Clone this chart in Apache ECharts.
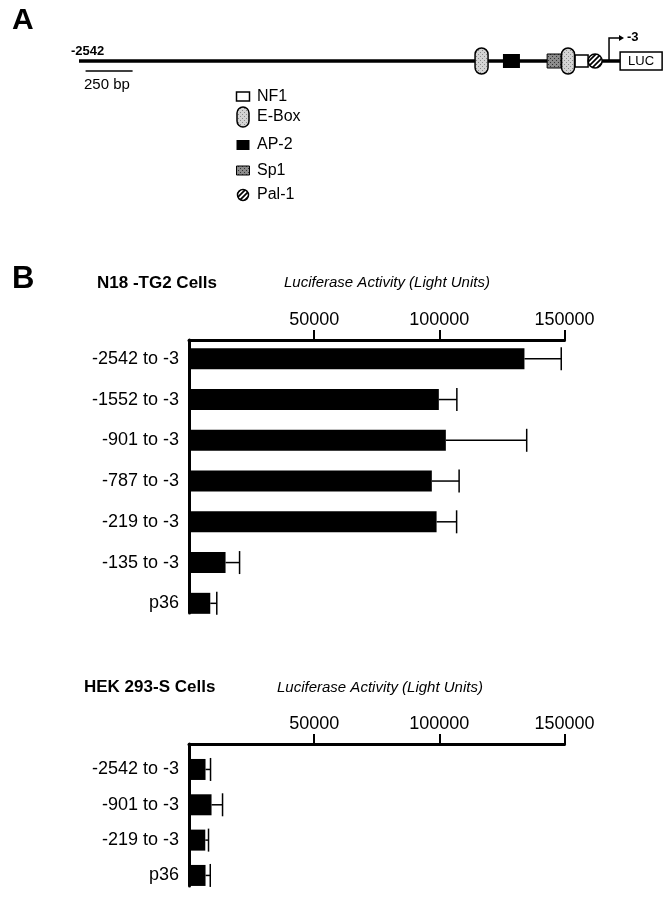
<!DOCTYPE html>
<html>
<head>
<meta charset="utf-8">
<script src="https://cdn.jsdelivr.net/npm/echarts@6/dist/echarts.min.js"></script>
<style>
html, body { margin: 0; background: #fff; }
#chart { width: 670px; height: 900px; }
</style>
</head>
<body>
<div id="chart"></div>
<script>
// panel B: luciferase activity (light units)
var n18Names = ['-2542 to -3', '-1552 to -3', '-901 to -3', '-787 to -3', '-219 to -3', '-135 to -3', 'p36'];
var n18Values = [134000, 99800, 102600, 97000, 98900, 14600, 8500];
var n18Errors = [14700, 7200, 32300, 10900, 8000, 5600, 2600];

var hekNames = ['-2542 to -3', '-901 to -3', '-219 to -3', 'p36'];
var hekValues = [6600, 9000, 6500, 6600];
var hekErrors = [2000, 4400, 1300, 1900];

var tickValues = [50000, 100000, 150000];

// panel A: promoter map, positions in map units from the -2542 end
var siteKinds = ['E-Box', 'AP-2', 'Sp1', 'E-Box', 'NF1', 'Pal-1'];
var sitePos = [2141, 2300, 2527, 2601, 2673, 2745];
var startPos = 2819;
var lucPos = 2878;
var scaleBar = [35, 285];
var legendNames = ['NF1', 'E-Box', 'AP-2', 'Sp1', 'Pal-1'];

var FONT = '"Liberation Sans", Arial, Helvetica, sans-serif';

function makePattern(bg, dot, size, kind) {
    var c = document.createElement('canvas');
    c.width = c.height = size;
    var g = c.getContext('2d');
    g.fillStyle = bg;
    g.fillRect(0, 0, size, size);
    if (kind === 'hatch') {
        g.strokeStyle = dot;
        g.lineWidth = 1.7;
        g.beginPath();
        g.moveTo(0, size); g.lineTo(size, 0);
        g.moveTo(-2, 2); g.lineTo(2, -2);
        g.moveTo(size - 2, size + 2); g.lineTo(size + 2, size - 2);
        g.stroke();
    } else {
        g.fillStyle = dot;
        g.fillRect(0, 0, 1, 1);
        g.fillRect(2, 2, 1, 1);
    }
    return { image: c, repeat: 'repeat' };
}
var lightStipple = makePattern('#d4d4d4', '#8a8a8a', 4);
var darkStipple = makePattern('#8c8c8c', '#333', 4);
var hatch = makePattern('#fff', '#000', 5, 'hatch');

// site symbol; s = 1 on the map, smaller in the legend
function siteShape(kind, x, y, s) {
    if (kind === 'E-Box') {
        var h = s === 1 ? 26 : 20, w = s === 1 ? 13 : 12;
        return { type: 'rect', shape: { x: x - w / 2, y: y - h / 2, width: w, height: h, r: w / 2 },
            style: { fill: lightStipple, stroke: '#000', lineWidth: 1.5 } };
    }
    if (kind === 'AP-2') {
        var w2 = s === 1 ? 17 : 13, h2 = s === 1 ? 14 : 10;
        return { type: 'rect', shape: { x: x - w2 / 2, y: y - h2 / 2, width: w2, height: h2 },
            style: { fill: '#000' } };
    }
    if (kind === 'Sp1') {
        var w3 = s === 1 ? 14 : 13, h3 = s === 1 ? 14 : 9;
        return { type: 'rect', shape: { x: x - w3 / 2, y: y - h3 / 2, width: w3, height: h3 },
            style: { fill: darkStipple, stroke: '#000', lineWidth: 1 } };
    }
    if (kind === 'NF1') {
        var w4 = 13, h4 = s === 1 ? 12 : 9;
        return { type: 'rect', shape: { x: x - w4 / 2, y: y - h4 / 2, width: w4, height: h4 },
            style: { fill: '#fff', stroke: '#000', lineWidth: 1.5 } };
    }
    return { type: 'circle', shape: { cx: x, cy: y, r: s === 1 ? 7 : 5.5 },
        style: { fill: hatch, stroke: '#000', lineWidth: 1.5 } };
}

function errorBars(values, errors) {
    return values.map(function (v, i) { return [v, errors[i], i]; });
}

function renderError(params, api) {
    var v = api.value(0), e = api.value(1), i = api.value(2);
    var p0 = api.coord([v, i]);
    var p1 = api.coord([v + e, i]);
    var st = { stroke: '#000', lineWidth: 1.5 };
    return {
        type: 'group',
        children: [
            { type: 'line', shape: { x1: p0[0], y1: p0[1], x2: p1[0], y2: p1[1] }, style: st },
            { type: 'line', shape: { x1: p1[0], y1: p1[1] - 11.5, x2: p1[0], y2: p1[1] + 11.5 }, style: st }
        ]
    };
}

function renderMap(params, api) {
    var y = api.coord([0, 0.5])[1];
    var x0 = api.coord([0, 0.5])[0];
    var xStart = api.coord([startPos, 0.5])[0];
    var xLuc = api.coord([lucPos, 0.5])[0];
    var sb0 = api.coord([scaleBar[0], 0.5])[0];
    var sb1 = api.coord([scaleBar[1], 0.5])[0];
    var children = [
        { type: 'line', shape: { x1: x0, y1: y, x2: xLuc, y2: y }, style: { stroke: '#000', lineWidth: 3.5 } },
        { type: 'line', shape: { x1: sb0, y1: y + 10, x2: sb1, y2: y + 10 }, style: { stroke: '#000', lineWidth: 1.5 } },
        { type: 'polyline', shape: { points: [[xStart, y], [xStart, y - 23], [xStart + 11, y - 23]] },
            style: { stroke: '#000', lineWidth: 1.5, fill: null } },
        { type: 'polygon', shape: { points: [[xStart + 15, y - 23], [xStart + 10, y - 26], [xStart + 10, y - 20]] },
            style: { fill: '#000' } },
        { type: 'rect', shape: { x: xLuc, y: y - 9, width: 42, height: 18 },
            style: { fill: '#fff', stroke: '#000', lineWidth: 1.5 } },
        { type: 'text', x: xLuc + 21, y: y, style: { text: 'LUC', font: '13px ' + FONT, fill: '#000', align: 'center', verticalAlign: 'middle' } },
        { type: 'text', x: xStart + 18, y: y - 24, style: { text: '-3', font: 'bold 13px ' + FONT, fill: '#000', verticalAlign: 'middle' } }
    ];
    sitePos.forEach(function (p, i) {
        children.push(siteShape(siteKinds[i], api.coord([p, 0.5])[0], y, 1));
    });
    return { type: 'group', children: children };
}

var legendY = [96.5, 117, 145, 170.5, 195];
var legendGraphics = [];
legendNames.forEach(function (n, i) {
    legendGraphics.push(siteShape(n, 243, legendY[i], 0));
    legendGraphics.push({ type: 'text', x: 257, y: legendY[i],
        style: { text: n, font: '16px ' + FONT, fill: '#000', verticalAlign: 'middle' } });
});

function txt(t, x, y, font) {
    return { type: 'text', x: x, y: y, style: { text: t, font: font, fill: '#000', verticalAlign: 'middle' } };
}

function frameX(grid) {
    return {
        gridIndex: grid, type: 'value', position: 'top', min: 0, max: 150000, interval: 50000,
        axisLine: { onZero: false, lineStyle: { color: '#000', width: 3 } },
        axisTick: { show: true, customValues: tickValues, length: 10, lineStyle: { color: '#000', width: 2 } },
        axisLabel: { customValues: tickValues, color: '#000', fontSize: 18, fontFamily: FONT, margin: 11,
            formatter: function (v) { return String(v); } },
        splitLine: { show: false }
    };
}
function frameY(grid) {
    return {
        gridIndex: grid, type: 'value', min: 0, max: 1,
        axisLine: { show: true, onZero: false, lineStyle: { color: '#000', width: 3 } },
        axisTick: { show: false }, axisLabel: { show: false }, splitLine: { show: false }
    };
}
function hiddenX(grid) {
    return { gridIndex: grid, type: 'value', min: 0, max: 150000, show: false };
}
function catY(grid, names) {
    return {
        gridIndex: grid, type: 'category', inverse: true, data: names,
        axisLine: { show: false }, axisTick: { show: false },
        axisLabel: { color: '#000', fontSize: 18, fontFamily: FONT, margin: 10 }
    };
}

var chart = echarts.init(document.getElementById('chart'));
var option = {
    backgroundColor: '#fff',
    animation: false,
    grid: [
        { left: 79, top: 40, width: 541.5, height: 42 },
        { left: 189, top: 340, width: 375.5, height: 273 },
        { left: 189, top: 338.4, width: 375.5, height: 285.3 },
        { left: 189, top: 744, width: 375.5, height: 142 },
        { left: 189, top: 751.8, width: 375.5, height: 141.3 }
    ],
    xAxis: [
        { gridIndex: 0, type: 'value', min: 0, max: 2880, show: false },
        frameX(1), hiddenX(2), frameX(3), hiddenX(4)
    ],
    yAxis: [
        { gridIndex: 0, type: 'value', min: 0, max: 1, show: false },
        frameY(1), catY(2, n18Names), frameY(3), catY(4, hekNames)
    ],
    series: [
        { type: 'custom', xAxisIndex: 0, yAxisIndex: 0, data: [[0, 0.5]], renderItem: renderMap, silent: true },
        { type: 'bar', xAxisIndex: 2, yAxisIndex: 2, data: n18Values, barWidth: 21,
            itemStyle: { color: '#000' }, silent: true },
        { type: 'custom', xAxisIndex: 2, yAxisIndex: 2, data: errorBars(n18Values, n18Errors),
            encode: { x: 0, y: 2 }, renderItem: renderError, z: 5, silent: true },
        { type: 'bar', xAxisIndex: 4, yAxisIndex: 4, data: hekValues, barWidth: 21,
            itemStyle: { color: '#000' }, silent: true },
        { type: 'custom', xAxisIndex: 4, yAxisIndex: 4, data: errorBars(hekValues, hekErrors),
            encode: { x: 0, y: 2 }, renderItem: renderError, z: 5, silent: true }
    ],
    graphic: [
        txt('A', 12, 21, 'bold 30px ' + FONT),
        txt('-2542', 71, 51, 'bold 13px ' + FONT),
        txt('250 bp', 84, 85, '15px ' + FONT),
        txt('B', 12, 279, 'bold 31px ' + FONT),
        txt('N18 -TG2 Cells', 97, 283, 'bold 17px ' + FONT),
        txt('Luciferase Activity (Light Units)', 284, 283, 'italic 15px ' + FONT),
        txt('HEK 293-S Cells', 84, 687, 'bold 17px ' + FONT),
        txt('Luciferase Activity (Light Units)', 277, 688, 'italic 15px ' + FONT)
    ].concat(legendGraphics)
};
chart.setOption(option);
</script>
</body>
</html>
